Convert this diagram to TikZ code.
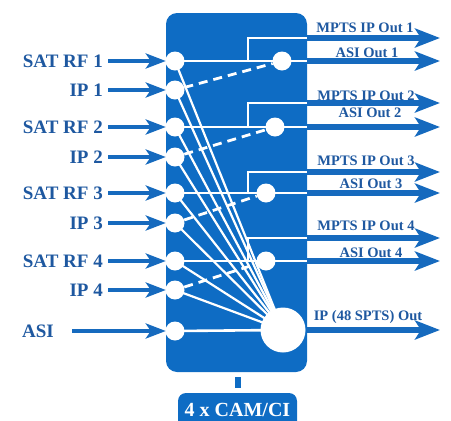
\documentclass[tikz,border=0pt]{standalone}
\usepackage{fontspec}
\setmainfont{Liberation Serif}
\usetikzlibrary{arrows.meta}
\definecolor{boxblue}{RGB}{14,108,196}
\definecolor{arrblue}{RGB}{22,106,190}
\definecolor{txtblue}{RGB}{30,88,160}
\tikzset{
  dot/.style={circle,fill=white,draw=none,inner sep=0pt,minimum size=19pt},
  bigdot/.style={circle,fill=white,draw=none,inner sep=0pt,minimum size=45pt},
  wl/.style={white,line width=2.6pt},
  fanl/.style={white,line width=2.2pt},
  dashl/.style={white,line width=2.8pt,dash pattern=on 9pt off 6pt},
  inarr/.style={arrblue,line width=4.5pt,-{Stealth[length=20pt,width=15pt,inset=5pt]}},
  outarr/.style={arrblue,line width=5.5pt,-{Stealth[length=25pt,width=19pt,inset=6pt]}},
  inlab/.style={font=\bfseries\fontsize{19}{20}\selectfont,text=txtblue,inner sep=0pt,anchor=base east},
  outlab/.style={font=\bfseries\fontsize{14.5}{16}\selectfont,text=txtblue,inner sep=0pt,anchor=base},
}
\begin{document}
\begin{tikzpicture}[x=1pt,y=-1pt]
\useasboundingbox (0,0) rectangle (451,421);
% main box
\node[fill=boxblue,rounded corners=11pt,minimum width=141pt,minimum height=359pt,inner sep=0pt] (box) at (236.5,192.5) {};
% connector and CAM box
\fill[boxblue] (235,377) rectangle (240.5,388);
\node[fill=boxblue,rounded corners=8pt,minimum width=119pt,minimum height=36pt,inner sep=0pt] (cam) at (237.5,411) {};
\node[font=\bfseries\fontsize{20}{22}\selectfont,text=white,inner sep=0pt,anchor=base] (camt) at (237.5,416) {4 x CAM/CI};
% input circles (positions)
\coordinate (p1) at (175,61);
\coordinate (p2) at (175,90);
\coordinate (p3) at (175,127);
\coordinate (p4) at (175,157);
\coordinate (p5) at (175,193);
\coordinate (p6) at (175,223);
\coordinate (p7) at (175,261);
\coordinate (p8) at (175,290);
\coordinate (p9) at (175,331);
\coordinate (bc) at (283,330);
% fan lines
\foreach \i in {1,...,8} {\draw[fanl] (p\i) -- (bc);}
\draw[wl] (p9) -- (bc);
% horizontal lines and brackets
\coordinate (v1) at (248,61);  \coordinate (t1) at (box.east |- 0,38);
\coordinate (v2) at (248,127); \coordinate (t2) at (box.east |- 0,103);
\coordinate (v3) at (248,193); \coordinate (t3) at (box.east |- 0,172);
\coordinate (v4) at (248,261); \coordinate (t4) at (box.east |- 0,238);
\draw[wl] (p1) -- (p1 -| box.east);
\draw[wl] (p3) -- (p3 -| box.east);
\draw[wl] (p5) -- (p5 -| box.east);
\draw[wl] (p7) -- (p7 -| box.east);
\draw[wl] (v1) |- (t1);
\draw[wl] (v2) |- (t2);
\draw[wl] (v3) |- (t3);
\draw[wl] (v4) |- (t4);
% middle circles
\node[dot] (m1) at (282,61) {};
\node[dot] (m2) at (275,127) {};
\node[dot] (m3) at (266,193) {};
\node[dot] (m4) at (266,261) {};
% input circle nodes
\foreach \i in {1,...,9} {\node[dot] (i\i) at (p\i) {};}
% dashed
\draw[dashl] (i2) -- (m1);
\draw[dashl] (i4) -- (m2);
\draw[dashl] (i6) -- (m3);
\draw[dashl] (i8) -- (m4);
% big circle
\node[bigdot] (b) at (bc) {};
% input arrows and labels
\foreach \i/\t in {1/SAT RF 1,2/IP 1,3/SAT RF 2,4/IP 2,5/SAT RF 3,6/IP 3,7/SAT RF 4,8/IP 4} {
  \coordinate (s\i) at (108,0 |- p\i);
  \draw[inarr] (s\i) -- (p\i -| box.west);
  \node[inlab] (l\i) at ([yshift=-6.3pt]103,0 |- p\i) {\t};
}
\coordinate (s9) at (72,331);
\draw[inarr] (s9) -- (p9 -| box.west);
\node[inlab,anchor=base west] (l9) at (22,337.3) {ASI};
% output arrows
\coordinate (e1a) at (440,38);  \coordinate (e1b) at (440,61);
\coordinate (e2a) at (440,103); \coordinate (e2b) at (440,127);
\coordinate (e3a) at (440,172); \coordinate (e3b) at (440,193);
\coordinate (e4a) at (440,238); \coordinate (e4b) at (440,261);
\coordinate (e5) at (440,330);
\draw[outarr] (t1) -- (e1a);
\draw[outarr] (p1 -| box.east) -- (e1b);
\draw[outarr] (t2) -- (e2a);
\draw[outarr] (p3 -| box.east) -- (e2b);
\draw[outarr] (t3) -- (e3a);
\draw[outarr] (p5 -| box.east) -- (e3b);
\draw[outarr] (t4) -- (e4a);
\draw[outarr] (p7 -| box.east) -- (e4b);
\draw[outarr] (bc -| box.east) -- (e5);
% output labels
\node[outlab] (o1a) at (365,32) {MPTS IP Out 1};
\node[outlab] (o1b) at (367,57) {ASI Out 1};
\node[outlab] (o2a) at (366,100) {MPTS IP Out 2};
\node[outlab] (o2b) at (370,117) {ASI Out 2};
\node[outlab] (o3a) at (366,165) {MPTS IP Out 3};
\node[outlab] (o3b) at (371,188) {ASI Out 3};
\node[outlab] (o4a) at (366,230) {MPTS IP Out 4};
\node[outlab] (o4b) at (371,257) {ASI Out 4};
\node[outlab] (o5) at (368,320) {IP (48 SPTS) Out};
\end{tikzpicture}
\end{document}
